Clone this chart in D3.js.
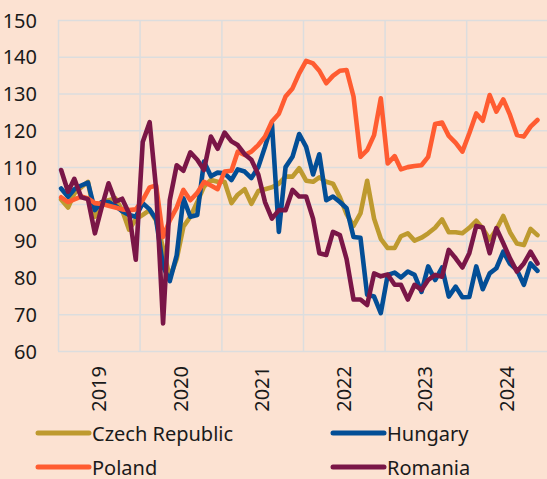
<!DOCTYPE html>
<html>
<head>
<meta charset="utf-8">
<script src="https://cdn.jsdelivr.net/npm/d3@7"></script>
<style>
  html, body { margin: 0; padding: 0; background: #FCE2D2; }
  svg { display: block; }
  text { font-family: "Noto Sans", Lato, sans-serif; fill: #1a1a1a; }
</style>
</head>
<body>
<svg id="chart" width="547" height="479"></svg>
<script>
// Monthly index values, Jan 2019 – Nov 2024
const startYear = 2019;
const yearLabels = ["2019", "2020", "2021", "2022", "2023", "2024"];
const yTicks = [60, 70, 80, 90, 100, 110, 120, 130, 140, 150];
const seriesNames = ["Czech Republic", "Hungary", "Poland", "Romania"];

const czech = [101.2, 99, 102.8, 104.5, 106, 96.5, 100.2, 101, 101.5, 98.3, 93, 95.8,
  97, 98.3, 95.5, 88, 80, 85, 93.8, 96.5, 100.5, 104.7, 106.5, 106,
  106, 100.2, 102.5, 104, 100, 103.5, 104, 104.5, 105.5, 107.4, 107.4, 109.7,
  106.3, 106, 107.2, 106, 105.5, 101.8, 97.2, 94, 97.4, 106.3, 96, 90.5,
  88, 88, 91.2, 92, 90, 90.8, 92, 93.5, 95.8, 92.3, 92.3, 92,
  93.5, 95.4, 93.3, 90.3, 93, 96.7, 92.3, 89.2, 88.8, 93.2, 91.5];

const hungary = [104.2, 101.9, 104, 105, 105.8, 98.3, 100.5, 100.5, 99.5, 98, 97, 96.5,
  100.2, 98.5, 95.8, 83, 79, 86, 101.5, 96.5, 97, 111.5, 107.5, 108.5,
  108.3, 106.5, 109.4, 108.8, 107, 110, 115.5, 121.8, 92.4, 110, 112.8, 119,
  115.5, 108, 113.5, 101, 102, 100.5, 98.8, 91, 90.8, 75.3, 74.8, 70.3,
  80.7, 81.3, 80, 81.6, 80.7, 76.1, 83, 79.3, 82.7, 74.8, 77.5, 74.6,
  74.7, 83, 76.8, 81.1, 82.5, 87, 83.7, 82, 78, 83.8, 81.8];

const poland = [101.8, 100.5, 101.2, 102, 101.5, 100.2, 100, 99.5, 99, 98.5, 98.3, 98.5,
  101, 104.5, 105, 91, 95.5, 99, 103.8, 101, 103, 106, 105, 104,
  108.8, 109, 114.2, 113.3, 114.2, 116, 118.3, 122.4, 124.5, 129.2, 131.4, 135.5,
  138.9, 138.2, 136.2, 132.8, 134.8, 136.2, 136.4, 129.2, 112.8, 114.6, 118.7, 128.7,
  111, 113, 109.4, 110, 110.3, 110.5, 112.8, 121.7, 122.1, 118.5, 116.6, 114.2,
  119.2, 124.6, 122.6, 129.6, 125.1, 128.4, 124.2, 118.7, 118.3, 121, 122.8];

const romania = [109.2, 103.3, 106.8, 101.8, 101.3, 92, 99, 105.6, 100.6, 101.4, 97.4, 84.8,
  116.8, 122.2, 104, 67.5, 101, 110.5, 109, 114, 112, 109.2, 118.3, 115,
  119.4, 117, 116, 113.5, 112, 108, 100.5, 96, 98.3, 98.3, 103.8, 102,
  102, 96, 86.6, 86.1, 92.4, 91.5, 85, 74, 74, 72.5, 81.1, 80.3,
  80.8, 78, 78, 74, 78, 76.6, 79.3, 80.7, 80.2, 87.5, 85.2, 82.7,
  86.6, 94, 93.6, 86.6, 93.4, 89.3, 85.2, 81.6, 83.8, 87, 83.8];

const colors = ["#BE9A2F", "#034E96", "#FF5C31", "#7A1647"];
const allSeries = [czech, hungary, poland, romania];

const svg = d3.select("#chart");
const m = { left: 58, top: 20, plotRight: 548, plotBottom: 351 };

const x = d3.scaleTime()
  .domain([new Date(startYear, 0, 1), new Date(startYear + yearLabels.length, 0, 1)])
  .range([m.left, m.plotRight]);
const y = d3.scaleLinear().domain([60, 150]).range([m.plotBottom, m.top]);

const dateOf = i => new Date(startYear, i, 15);

const grid = svg.append("g");
grid.append("g")
  .attr("transform", `translate(${m.left},0)`)
  .call(d3.axisLeft(y).tickValues(yTicks).tickSize(-(m.plotRight - m.left)).tickFormat(""))
  .call(g => g.select(".domain").remove())
  .call(g => g.selectAll("line").attr("stroke", "#DCDDDE").attr("stroke-width", 1.5));
const yearStarts = d3.range(startYear, startYear + yearLabels.length + 1).map(yv => new Date(yv, 0, 1));
grid.append("g")
  .attr("transform", `translate(0,${m.plotBottom})`)
  .call(d3.axisBottom(x).tickValues(yearStarts).tickSize(-(m.plotBottom - m.top)).tickFormat(""))
  .call(g => g.select(".domain").remove())
  .call(g => g.selectAll("line").attr("stroke", "#DCDDDE").attr("stroke-width", 1.5));

svg.append("g").selectAll("text").data(yTicks).join("text")
  .attr("x", 37).attr("y", d => y(d))
  .attr("text-anchor", "end").attr("dominant-baseline", "central")
  .style("font-size", "20px")
  .text(d => d);

svg.append("g").selectAll("text").data(yearLabels).join("text")
  .attr("transform", (d, i) => `translate(${x(new Date(startYear + i, 6, 2)) + 7},366) rotate(-90)`)
  .attr("text-anchor", "end")
  .style("font-size", "20px")
  .text(d => d);

const line = d3.line().x((d, i) => x(dateOf(i))).y(d => y(d));
svg.append("g").selectAll("path").data(allSeries).join("path")
  .attr("d", d => line(d))
  .attr("fill", "none")
  .attr("stroke", (d, i) => colors[i])
  .attr("stroke-width", 4.6)
  .attr("stroke-linejoin", "round")
  .attr("stroke-linecap", "round");

const legendPos = [[38, 433], [333, 433], [38, 467], [333, 467]];
const lg = svg.append("g").selectAll("g").data(seriesNames).join("g")
  .attr("transform", (d, i) => `translate(${legendPos[i][0]},${legendPos[i][1]})`);
lg.append("line").attr("x1", 0).attr("x2", 51).attr("y1", 0).attr("y2", 0)
  .attr("stroke", (d, i) => colors[i]).attr("stroke-width", 5).attr("stroke-linecap", "round");
lg.append("text").attr("x", 54).attr("y", 0).attr("dominant-baseline", "central")
  .style("font-size", "20px").text(d => d);
</script>
</body>
</html>
